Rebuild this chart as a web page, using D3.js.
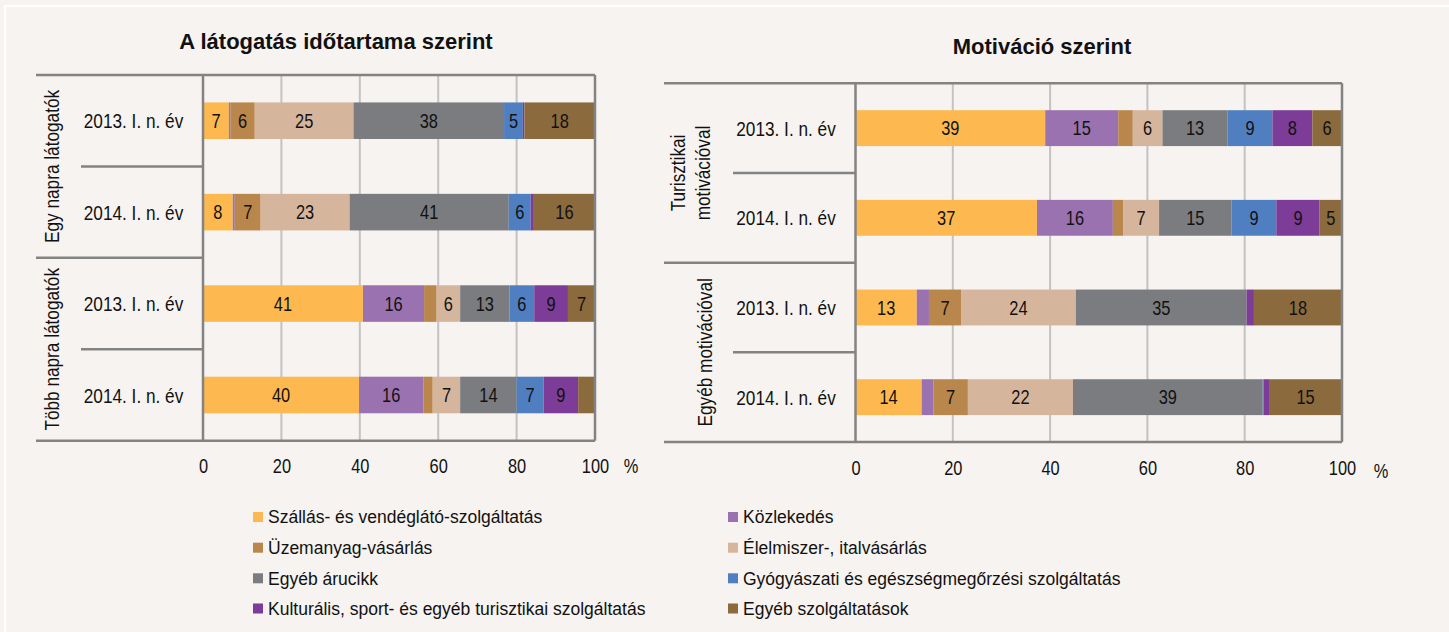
<!DOCTYPE html>
<html>
<head>
<meta charset="utf-8">
<script src="https://cdn.jsdelivr.net/npm/d3@7"></script>
<style>
  html, body { margin: 0; padding: 0; background: #f6f3f0; }
  svg { display: block; }
</style>
</head>
<body>
<svg id="chart"></svg>
<script>
// series (stack order) and colours
const seriesNames = [
  "Szállás- és vendéglátó-szolgáltatás",
  "Közlekedés",
  "Üzemanyag-vásárlás",
  "Élelmiszer-, italvásárlás",
  "Egyéb árucikk",
  "Gyógyászati és egészségmegőrzési szolgáltatás",
  "Kulturális, sport- és egyéb turisztikai szolgáltatás",
  "Egyéb szolgáltatások"
];
const seriesColors = ["#fdb94f", "#9b72b0", "#b9864c", "#d6b59d", "#7b7c80", "#4f7fc1", "#7d3c98", "#8b6a3e"];

const years = ["2013. I. n. év", "2014. I. n. év"];
const xTicks = [0, 20, 40, 60, 80, 100];

// A látogatás időtartama szerint
const durationGroups = ["Egy napra látogatók", "Több napra látogatók"];
const durationValues = [
  [6.6, 0.4, 6.2, 25.2, 38.4, 4.8, 0.4, 18.0],
  [7.6, 0.5, 6.6, 22.7, 40.6, 5.6, 0.8, 15.6],
  [40.8, 15.6, 3.2, 6.0, 12.6, 6.3, 8.6, 6.9],
  [39.8, 16.4, 2.4, 7.0, 14.4, 6.9, 8.8, 4.3]
];

// Motiváció szerint
const motivationGroups = [["Turisztikai", "motivációval"], ["Egyéb motivációval"]];
const motivationValues = [
  [39.0, 15.0, 3.0, 6.1, 13.4, 9.2, 8.2, 6.1],
  [37.3, 15.6, 2.1, 7.4, 14.9, 9.2, 8.9, 4.6],
  [12.6, 2.5, 6.6, 23.6, 35.1, 0.0, 1.5, 18.1],
  [13.6, 2.4, 7.1, 21.6, 39.0, 0.2, 1.1, 15.0]
];

const W = 1449, H = 632;
const FONT = "'Liberation Sans', Arial, sans-serif";
const NARROW = "scale(0.82,1)";   // no narrow face installed, squeeze Arial instead
const AXIS = "#838383", GRID = "#c3c3c3";

const svg = d3.select("#chart").attr("width", W).attr("height", H);
svg.append("rect").attr("width", W).attr("height", H).attr("fill", "#f6f3f0");
// white frame
svg.append("rect").attr("x", 5).attr("y", 6).attr("width", W + 20).attr("height", H + 20)
  .attr("fill", "none").attr("stroke", "#ffffff").attr("stroke-width", 2.5);

function drawPanel(cfg) {
  let x = d3.scaleLinear().domain([0, 100]).range([cfg.x0, cfg.x1]);
  let rows = [];
  cfg.groups.forEach((g, gi) => years.forEach((yr, yi) => rows.push({key: gi + "|" + yi, year: yr, values: cfg.values[gi * 2 + yi]})));
  let y = d3.scaleBand().domain(rows.map(d => d.key)).range([cfg.top, cfg.bottom]);
  let step = y.step(), bh = step * 0.4;

  let g = svg.append("g");

  // title
  g.append("text").attr("x", cfg.titleX).attr("y", cfg.titleY)
    .attr("text-anchor", "middle").attr("font-family", FONT)
    .attr("font-weight", "700").attr("font-size", 22).attr("fill", "#111").text(cfg.title);

  // gridlines
  g.selectAll(".grid").data(xTicks.filter(t => t > 0 && t < 100)).join("line")
    .attr("x1", d => x(d)).attr("x2", d => x(d))
    .attr("y1", cfg.top).attr("y2", cfg.bottom)
    .attr("stroke", GRID).attr("stroke-width", 2);

  // stacked bars
  let stack = d3.stack().keys(d3.range(seriesNames.length)).value((d, k) => d.values[k]);
  let layers = stack(rows);
  let layerG = g.selectAll(".layer").data(layers).join("g")
    .attr("fill", (d, i) => seriesColors[i]);
  layerG.selectAll("rect").data(d => d).join("rect")
    .attr("x", d => x(d[0])).attr("width", d => Math.max(0, x(d[1]) - x(d[0])))
    .attr("y", d => y(d.data.key) + (step - bh) / 2).attr("height", bh);

  // value labels
  layers.forEach((layer, i) => {
    g.selectAll(null).data(layer.filter(d => d[1] - d[0] >= 4.5)).join("text")
      .attr("transform", d => `translate(${x((d[0] + d[1]) / 2)},${y(d.data.key) + step / 2}) ${NARROW}`)
      .attr("dy", "0.36em").attr("text-anchor", "middle")
      .attr("font-family", FONT).attr("font-size", 20).attr("fill", "#111")
      .text(d => Math.round(d[1] - d[0]));
  });

  // frame lines
  let line = (x1, y1, x2, y2) => g.append("line").attr("x1", x1).attr("y1", y1).attr("x2", x2).attr("y2", y2)
    .attr("stroke", AXIS).attr("stroke-width", 2.5);
  line(cfg.outer, cfg.top, cfg.x1, cfg.top);
  line(cfg.outer, cfg.bottom, cfg.x1, cfg.bottom);
  line(cfg.x1, cfg.top, cfg.x1, cfg.bottom);
  line(cfg.x0, cfg.top, cfg.x0, cfg.bottom);
  line(cfg.outer, cfg.top + step * 2, cfg.x0, cfg.top + step * 2);
  line(cfg.inner, cfg.top + step, cfg.x0, cfg.top + step);
  line(cfg.inner, cfg.top + step * 3, cfg.x0, cfg.top + step * 3);

  // year labels
  g.selectAll(".yl").data(rows).join("text")
    .attr("transform", d => `translate(${cfg.labelX},${y(d.key) + step / 2}) ${NARROW}`)
    .attr("dy", "0.36em")
    .attr("text-anchor", "middle").attr("font-family", FONT).attr("font-size", 21)
    .attr("fill", "#111").text(d => d.year);

  // group labels (rotated)
  cfg.groups.forEach((grp, gi) => {
    let lines = Array.isArray(grp) ? grp : [grp];
    let cy = cfg.top + step * (gi * 2 + 1);
    let t = g.append("text").attr("transform", `translate(${cfg.groupX[gi]},${cy}) rotate(-90) ${NARROW}`)
      .attr("text-anchor", "middle").attr("font-family", FONT).attr("font-size", 21).attr("fill", "#111");
    lines.forEach((l, li) => t.append("tspan").attr("x", 0)
      .attr("dy", li === 0 ? (0.36 - (lines.length - 1) * 0.6) + "em" : "1.2em").text(l));
  });

  // x axis
  let xAxis = d3.axisBottom(x).tickValues(xTicks).tickSize(0).tickPadding(0);
  let ax = g.append("g").attr("transform", `translate(0,${cfg.tickY})`).call(xAxis);
  ax.select(".domain").remove();
  ax.selectAll("text").attr("dy", 0).attr("transform", NARROW)
    .attr("font-family", FONT).attr("font-size", 20).attr("fill", "#111");

  g.append("text").attr("transform", `translate(${cfg.pctX},${cfg.pctY}) ${NARROW}`).attr("text-anchor", "middle")
    .attr("font-family", FONT).attr("font-size", 20).attr("fill", "#111").text("%");
}

drawPanel({
  title: "A látogatás időtartama szerint", titleX: 336, titleY: 49,
  groups: durationGroups, values: durationValues,
  x0: 203, x1: 595, top: 75, bottom: 440.7, outer: 36, inner: 81,
  labelX: 133.5, groupX: [51, 51], tickY: 473, pctX: 631, pctY: 473
});
drawPanel({
  title: "Motiváció szerint", titleX: 1042, titleY: 54,
  groups: motivationGroups, values: motivationValues,
  x0: 855.5, x1: 1342, top: 83.3, bottom: 442, outer: 664, inner: 733,
  labelX: 786, groupX: [690, 704], tickY: 475, pctX: 1381, pctY: 478
});

// legend
const legendCols = [253, 728];
const legendRows = [517, 547.7, 578.3, 608.5];
const legend = svg.append("g").selectAll("g").data(seriesNames).join("g")
  .attr("transform", (d, i) => `translate(${legendCols[i % 2]},${legendRows[Math.floor(i / 2)]})`);
legend.append("rect").attr("x", 0).attr("y", -5).attr("width", 10).attr("height", 10)
  .attr("fill", (d, i) => seriesColors[i]);
legend.append("text").attr("x", 15).attr("dy", "0.36em")
  .attr("font-family", FONT).attr("font-size", 17.5).attr("fill", "#111").text(d => d);
</script>
</body>
</html>
